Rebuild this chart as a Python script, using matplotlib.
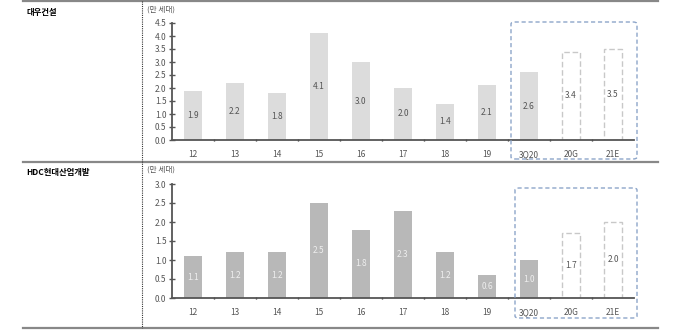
import numpy as np
import matplotlib.pyplot as plt
from matplotlib.patches import FancyBboxPatch, Rectangle
from matplotlib.lines import Line2D

plt.rcParams['font.family'] = ['Noto Sans CJK KR', 'DejaVu Sans']

categories = ['12', '13', '14', '15', '16', '17', '18', '19', '3Q20', '20G', '21E']
daewoo_vals = [1.9, 2.2, 1.8, 4.1, 3.0, 2.0, 1.4, 2.1, 2.6, 3.4, 3.5]
hdc_vals = [1.1, 1.2, 1.2, 2.5, 1.8, 2.3, 1.2, 0.6, 1.0, 1.7, 2.0]
n_actual = 9  # bars up to 3Q20 are filled, rest are dashed forecasts

W, H = 680, 331
fig = plt.figure(figsize=(W / 100, H / 100), dpi=100)


def px_ax(x0, y_top, x1, y_bot):
    return fig.add_axes([x0 / W, 1 - y_bot / H, (x1 - x0) / W, (y_bot - y_top) / H])


def draw_panel(ax, vals, ymax, yticks, color, label_color):
    x = np.arange(len(categories))
    for i, v in enumerate(vals):
        if i < n_actual:
            ax.bar(x[i], v, width=0.42, color=color, edgecolor='none', zorder=2)
        else:
            ax.bar(x[i], v, width=0.42, facecolor='white', edgecolor='#c8c8c8',
                   linestyle=(0, (4, 2)), linewidth=1.0, zorder=2)
        lc = label_color if i < n_actual else '#555555'
        ax.text(x[i], v / 2, f'{v:.1f}', ha='center', va='center', fontsize=6,
                color=lc, zorder=3)
    ax.set_xlim(-0.5, len(categories) - 0.5)
    ax.set_ylim(0, ymax)
    ax.set_yticks(yticks)
    ax.set_yticklabels([f'{t:.1f}' for t in yticks])
    ax.set_xticks(x)
    ax.set_xticklabels(categories)
    ax.set_xticks(np.arange(0.5, len(categories) - 0.5), minor=True)
    for s in ['top', 'right']:
        ax.spines[s].set_visible(False)
    for s in ['left', 'bottom']:
        ax.spines[s].set_color('#555555')
        ax.spines[s].set_linewidth(1.3)
    ax.tick_params(axis='y', direction='inout', length=4, width=1, color='#555555',
                   labelsize=6, labelcolor='#555555', pad=2)
    ax.tick_params(axis='x', which='major', length=0, labelsize=6,
                   labelcolor='#555555', pad=7)
    ax.tick_params(axis='x', which='minor', direction='inout', length=2, width=1,
                   color='#333333')
    ax.patch.set_alpha(0)


ax1 = px_ax(172, 23, 634, 140)
draw_panel(ax1, daewoo_vals, 4.5, np.arange(0, 4.51, 0.5), '#dcdcdc', '#555555')

ax2 = px_ax(172, 184, 634, 298)
draw_panel(ax2, hdc_vals, 3.0, np.arange(0, 3.01, 0.5), '#b8b8b8', '#eeeeee')

# separators and titles
for y in [1, 162, 328]:
    fig.add_artist(Line2D([23 / W, 658 / W], [1 - y / H] * 2, color='#888888', lw=1.6))
fig.add_artist(Line2D([142 / W] * 2, [1 - 1 / H, 1 - 328 / H], color='#333333',
                      lw=0.8, linestyle=(0, (1, 1))))

fig.text(26 / W, 1 - 12 / H, '대우건설', fontsize=6, fontweight='bold', va='center')
fig.text(26 / W, 1 - 173 / H, 'HDC현대산업개발', fontsize=6, fontweight='bold', va='center')
fig.text(147 / W, 1 - 10 / H, '(만 세대)', fontsize=5.5, color='#555555', va='center')
fig.text(147 / W, 1 - 170 / H, '(만 세대)', fontsize=5.5, color='#555555', va='center')

# dashed highlight boxes around 3Q20 ~ 21E
for x0, y0, x1, y1 in [(511, 22, 637, 159), (515, 188, 637, 318)]:
    box = FancyBboxPatch((x0 / W, 1 - y1 / H), (x1 - x0) / W, (y1 - y0) / H,
                         boxstyle='round,pad=0,rounding_size=0.006',
                         transform=fig.transFigure, facecolor='none',
                         edgecolor='#8da5c9', linestyle=(0, (3, 2)), linewidth=1.0)
    fig.add_artist(box)

fig.savefig('out.png', dpi=100)
